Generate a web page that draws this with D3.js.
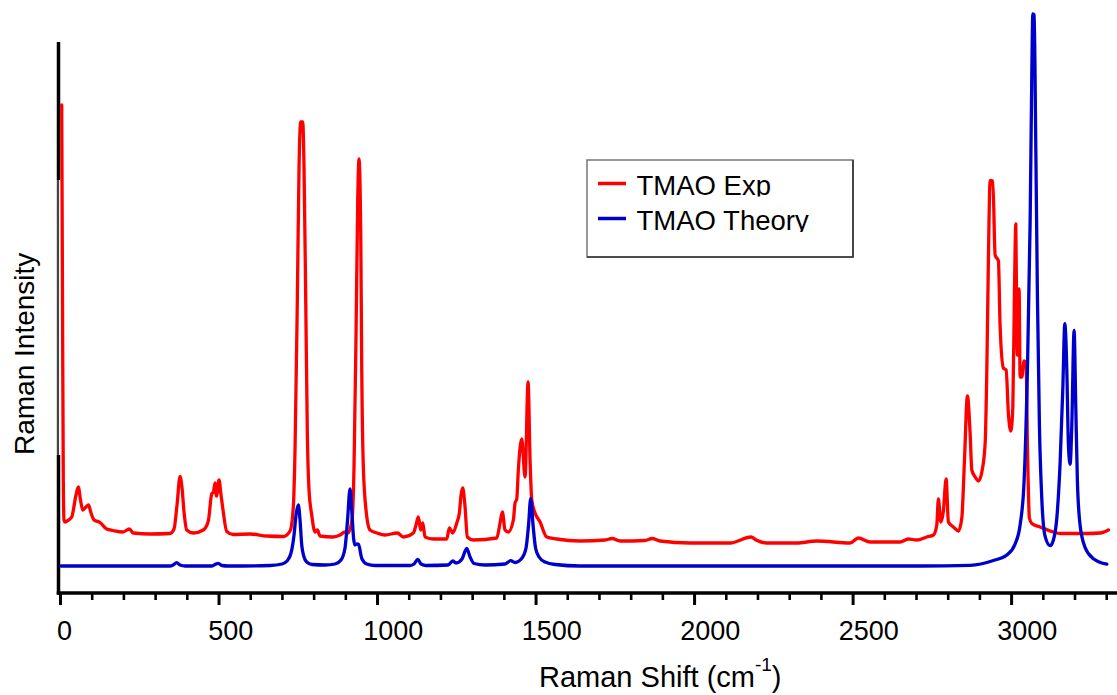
<!DOCTYPE html>
<html>
<head>
<meta charset="utf-8">
<title>TMAO Raman spectra</title>
<script src="https://cdn.jsdelivr.net/npm/d3@7/dist/d3.min.js"></script>
<style>
  html, body { margin: 0; padding: 0; background: #fff; }
  svg { display: block; font-family: "Liberation Sans", Arial, sans-serif; }
</style>
</head>
<body>
<svg id="chart" width="1117" height="695"></svg>
<script>
// Experimental Raman spectrum of TMAO: [shift (cm^-1), intensity (a.u.)]
const expSpectrum = [
  [5.4,488],[7.9,293],[10.4,113],[12.6,73],[15.8,71],[22.1,72],[36.9,76],[50.5,98],[57.7,106],[64.7,93],
  [71.6,83],[82,86],[89.9,88],[97.8,80],[107.3,73],[126.2,70.5],[147.3,64],[167.2,62.5],[198.7,61],[218.6,64],
  [231.2,60],[283.9,59],[347,59.5],[359.6,64],[369.1,88],[378.6,116.5],[384.9,105],[391.2,81],[399.7,63],[420.5,60],
  [452,63],[467.8,72],[478.5,99],[484.2,101],[488.9,110],[493.7,97],[501.6,113],[507.9,98],[514.2,83],[525.9,61.5],
  [546.7,58.5],[599.4,59],[652,57],[704.4,56.5],[725.6,62],[735.9,86],[741.3,143],[748.6,293],[754,426],[759.3,471],
  [765.6,471],[769.7,426],[775.1,293],[780.1,160],[785.5,103],[794,78],[804.4,61],[811.7,63],[820.2,57],[861.2,56],
  [883.3,58],[899,61],[908.5,60],[921.1,73],[927.4,126],[933.8,260],[939.1,393],[943.2,434],[948.6,360],[951.7,226],
  [956.8,126],[965.3,83],[977.9,63],[1000,60],[1025.3,58],[1064,60],[1083,56],[1114.5,60],[1123,68],[1130.3,76],
  [1137.8,63],[1144.2,70],[1151.4,56],[1177.6,54],[1219.9,54],[1228.1,65],[1238.8,60],[1251.4,70],[1259.6,80],[1265,98],
  [1270.3,105],[1277.6,86],[1284.9,56],[1303.8,53],[1377.6,55],[1388,70],[1395.3,81],[1403.8,63],[1414.2,61],[1430,73],
  [1435.3,90],[1440.7,94],[1445.7,123],[1456.5,154],[1466.9,116],[1476.4,211],[1482.7,133],[1488,93],[1498.4,80],[1514.2,71],
  [1535.3,56],[1566.9,54],[1640.4,52],[1719.3,53],[1741.3,54.5],[1766.6,52],[1845.4,52.5],[1867.5,54.5],[1892.8,52],[1987.4,50],
  [2113.6,50],[2179.8,56],[2195.6,53],[2229.4,50],[2324,50],[2387.1,52],[2492.1,50],[2518.3,55],[2555.2,51],[2649.9,51],
  [2676,54],[2702.6,53],[2734.1,56],[2755,58],[2765.6,68],[2770.6,94],[2778.2,71],[2786.4,82],[2795,114],[2802.2,71],
  [2818,66],[2833.8,62],[2844.5,75],[2852.7,131],[2862.2,197],[2870.7,160],[2876,123],[2886.5,116],[2896.9,112],[2907.6,121],
  [2918,149],[2923.4,223],[2928.4,334],[2933.8,412.5],[2942.3,412],[2949.6,338],[2960,332],[2965.3,267],[2975.7,225],[2984.3,223],
  [2991.5,179],[2999.1,162],[3005.4,186],[3010.4,297],[3014.8,369],[3018,260],[3019.9,238],[3025.2,304],[3028.4,216],[3033.7,216],
  [3041,232],[3047.3,230],[3051.4,149],[3057.7,75],[3065.3,69.5],[3091.5,66],[3133.4,61],[3154.6,59.5],[3238.8,59.5],[3280.8,60],
  [3307,63]
];

// Computed (theory) Raman spectrum of TMAO: [shift (cm^-1), intensity (a.u.)]
const theorySpectrum = [
  [3.2,27],[347,27],[356.5,28],[368.1,30.3],[378.6,28],[394.3,27],[479.5,27],[489,28.5],[499.4,29.7],[511,27.5],
  [530,27],[662.5,27.5],[700.3,29],[716.1,32],[728.7,40],[738.2,58],[744.5,78],[751.7,88],[757.1,73],[762.5,48],
  [769.7,36],[778.2,31],[795,28.5],[836,28],[867.5,29],[886.4,33],[899,45],[907,73],[914.8,104],[921.2,78],
  [925.9,55],[930.6,48],[936.9,49],[941.6,48.7],[951.7,34.7],[967.5,29],[993.7,27.5],[1104.1,27.5],[1116.7,29],[1128.4,33.7],
  [1138.8,29],[1154.6,27.5],[1224,28],[1238.8,32],[1249.2,30],[1268.2,34],[1283,44.7],[1293.4,36],[1306,29.5],[1340.7,28],
  [1403.8,29],[1421.8,32.3],[1435.3,30.5],[1457.4,35],[1470,45],[1477.9,68],[1484.8,94.7],[1492.1,68],[1500,45],[1511,36],
  [1530,31],[1561.5,28.5],[1640.4,27],[2713,27],[2870.7,27.7],[2944.2,32.5],[2986.5,38],[3012.6,49],[3028.4,68],[3041,112],
  [3051.4,223],[3060,371],[3065.3,519],[3068.5,579],[3072.6,578],[3077.9,445],[3083,297],[3089.3,167.5],[3096.9,93.6],[3107.3,56.6],
  [3123,47.3],[3133.4,53],[3144.2,75],[3154.6,130.6],[3163.1,204.5],[3169.4,269.3],[3175.7,223],[3180.7,149],[3186.1,128.7],[3191.4,167.5],
  [3198.7,262.6],[3204,186],[3209.1,112],[3217.6,67.7],[3233.4,45.5],[3259.6,34.3],[3301.9,28.8]
];

const seriesNames = ["TMAO Exp", "TMAO Theory"];
const seriesColors = ["#ff0000", "#0000cc"];

const majorTicks = [0, 500, 1000, 1500, 2000, 2500, 3000];
const minorTicks = d3.range(0, 3301, 100).filter(v => v % 500 !== 0);
const tickLabels = ["0", "500", "1000", "1500", "2000", "2500", "3000"];

const xLabel = "Raman Shift (cm";
const xLabelSup = "-1";
const yLabel = "Raman Intensity";

const svg = d3.select("#chart");
const W = 1117, H = 695;
svg.append("rect").attr("width", W).attr("height", H).attr("fill", "#fff");

const plot = { left: 60, right: 1117, top: 42, bottom: 593 };

const x = d3.scaleLinear().domain([0, 3334]).range([plot.left, plot.right]);
const y = d3.scaleLinear().domain([0, 551]).range([plot.bottom, plot.top]);

const line = d3.line()
  .x(d => x(d[0]))
  .y(d => y(d[1]))
  .curve(d3.curveMonotoneX);

// left spine: solid black ends, lighter middle section behind the excitation line
const spineX = plot.left - 1.5;
[
  { y1: plot.top, y2: 180, color: "#000", w: 3.5, dx: 0 },
  { y1: 180, y2: 455, color: "#444", w: 2.2, dx: -0.6 },
  { y1: 455, y2: plot.bottom + 1.5, color: "#000", w: 3.5, dx: 0 }
].forEach(s => {
  svg.append("line")
    .attr("x1", spineX + s.dx).attr("x2", spineX + s.dx)
    .attr("y1", s.y1).attr("y2", s.y2)
    .attr("stroke", s.color).attr("stroke-width", s.w);
});

// spectra (theory drawn on top)
[expSpectrum, theorySpectrum].forEach((data, i) => {
  svg.append("path")
    .datum(data)
    .attr("d", line)
    .attr("fill", "none")
    .attr("stroke", seriesColors[i])
    .attr("stroke-width", 3.3)
    .attr("stroke-linejoin", "round")
    .attr("stroke-linecap", "round");
});

// bottom axis: minor ticks
const xAxisMinor = d3.axisBottom(x).tickValues(minorTicks).tickSize(7).tickFormat("");
const gMinor = svg.append("g").attr("transform", `translate(0,${plot.bottom})`).call(xAxisMinor);
gMinor.select(".domain").remove();
gMinor.selectAll(".tick line").attr("stroke", "#000").attr("stroke-width", 2.6);

// bottom axis: major ticks and labels
const xAxisMajor = d3.axisBottom(x).tickValues(majorTicks).tickSize(12)
  .tickFormat((d, i) => tickLabels[i]);
const gMajor = svg.append("g").attr("transform", `translate(0,${plot.bottom})`).call(xAxisMajor);
gMajor.select(".domain").remove();
gMajor.selectAll(".tick line").attr("stroke", "#000").attr("stroke-width", 3);
gMajor.selectAll(".tick text")
  .attr("fill", "#000")
  .attr("font-size", 27)
  .attr("font-family", "'Liberation Sans', Arial, sans-serif")
  .attr("y", 47)
  .attr("dy", 0)
  .each(function () {
    const w = this.getComputedTextLength();
    d3.select(this).attr("x", w * 0.26);
  });

svg.append("line")
  .attr("x1", plot.left - 3.25).attr("x2", W)
  .attr("y1", plot.bottom).attr("y2", plot.bottom)
  .attr("stroke", "#000").attr("stroke-width", 3.4);

// axis titles
const xt = svg.append("text")
  .attr("x", 539).attr("y", 687)
  .attr("font-size", 29)
  .attr("fill", "#000");
xt.append("tspan").text(xLabel);
xt.append("tspan").attr("font-size", 19).attr("dy", -16).text(xLabelSup);
xt.append("tspan").attr("dy", 16).text(")");

svg.append("text")
  .attr("transform", "translate(34,455) rotate(-90)")
  .attr("font-size", 28)
  .attr("fill", "#000")
  .text(yLabel);

// legend
const legend = svg.append("g");
legend.append("rect")
  .attr("x", 587).attr("y", 160).attr("width", 266).attr("height", 97)
  .attr("fill", "#fff").attr("stroke", "#777").attr("stroke-width", 1.5);
// darker right and bottom edges of the legend frame
legend.append("path")
  .attr("d", "M853,160 V257 H587")
  .attr("fill", "none").attr("stroke", "#333").attr("stroke-width", 1.6);

const defs = svg.append("defs");
const rows = [{ ly: 183.5, base: 194.5 }, { ly: 218.5, base: 230 }];
rows.forEach((r, i) => {
  legend.append("line")
    .attr("x1", 598).attr("x2", 626)
    .attr("y1", r.ly).attr("y2", r.ly)
    .attr("stroke", seriesColors[i]).attr("stroke-width", 3.5);
  defs.append("clipPath").attr("id", "legclip" + i)
    .append("rect").attr("x", 630).attr("y", r.base - 30).attr("width", 220).attr("height", 32);
  legend.append("text")
    .attr("x", 636.5).attr("y", r.base)
    .attr("font-size", 27.5)
    .attr("fill", "#000")
    .attr("clip-path", `url(#legclip${i})`)
    .text(seriesNames[i]);
});
</script>
</body>
</html>
